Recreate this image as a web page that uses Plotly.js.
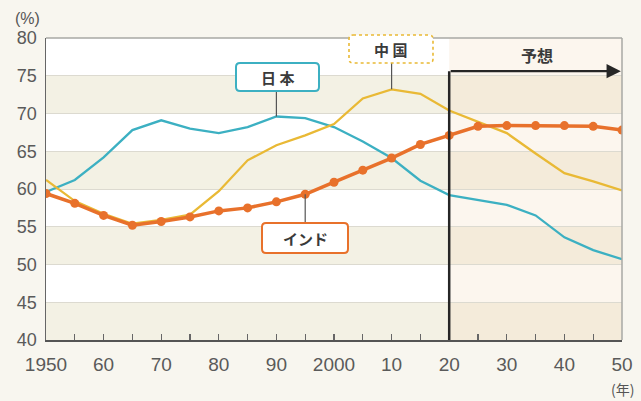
<!DOCTYPE html>
<html><head><meta charset="utf-8">
<script src="https://cdn.plot.ly/plotly-3.0.1.min.js"></script>
<style>html,body{margin:0;padding:0;background:#f8f6ef;}#chart{width:641px;height:401px;}</style>
</head><body><div id="chart"></div>
<script>
// ---- data ----
const years = [1950,1955,1960,1965,1970,1975,1980,1985,1990,1995,2000,2005,2010,2015,2020,2025,2030,2035,2040,2045,2050];
const japan = [59.6,61.2,64.2,67.8,69.1,68.0,67.4,68.2,69.6,69.4,68.2,66.3,64.1,61.1,59.2,58.5,57.9,56.5,53.6,51.9,50.7];
const china = [61.2,58.4,56.7,55.4,55.9,56.6,59.7,63.8,65.8,67.1,68.6,72.0,73.2,72.6,70.4,68.9,67.4,64.7,62.1,61.0,59.8];
const india = [59.4,58.1,56.5,55.2,55.7,56.3,57.1,57.5,58.3,59.3,60.9,62.5,64.1,65.9,67.1,68.3,68.4,68.4,68.4,68.3,67.8];
const xTickVals = [1950,1960,1970,1980,1990,2000,2010,2020,2030,2040,2050];
const xTickText = ['1950','60','70','80','90','2000','10','20','30','40','50'];
const yTickVals = [40,45,50,55,60,65,70,75,80];
const forecastStart = 2020;
const labelJapan = '日 本', labelChina = '中 国', labelIndia = 'インド', labelForecast = '予想';

// ---- styling ----
const cJapan = '#3cb0c2', cChina = '#e9b935', cIndia = '#e8712b';
const font = 'Liberation Sans, Arial, sans-serif';
const jpFont = 'Noto Sans CJK JP, sans-serif';
const xMin = 1950, xMax = 2050, yMin = 40, yMax = 80;
const arrowY = 75.6;

const shapes = [];
// bands
for (let y0 = yMin; y0 < yMax; y0 += 5) {
  const beige = ((y0 / 5) % 2 === 0);
  shapes.push({type:'rect', xref:'x', yref:'y', x0:xMin, x1:forecastStart, y0:y0, y1:y0+5,
    fillcolor: beige ? '#f3f1e4' : '#ffffff', line:{width:0}, layer:'below'});
  shapes.push({type:'rect', xref:'x', yref:'y', x0:forecastStart, x1:xMax, y0:y0, y1:y0+5,
    fillcolor: beige ? '#f4ebda' : '#fcf6ee', line:{width:0}, layer:'below'});
}
// frame top & right
shapes.push({type:'line', xref:'paper', yref:'paper', x0:0, x1:1, y0:1, y1:1, line:{color:'#a8a8a4', width:1.5}});
shapes.push({type:'line', xref:'paper', yref:'paper', x0:1, x1:1, y0:0, y1:1, line:{color:'#a8a8a4', width:1.5}});
// forecast vertical line
shapes.push({type:'line', xref:'x', yref:'y', x0:forecastStart, x1:forecastStart, y0:yMin, y1:arrowY, line:{color:'#262626', width:2.5}});

function roundRect(x0, x1, y0, y1, r) {
  const rx = r / 576, ry = r / 302;
  return `M ${x0+rx},${y1} L ${x1-rx},${y1} Q ${x1},${y1} ${x1},${y1-ry} L ${x1},${y0+ry} Q ${x1},${y0} ${x1-rx},${y0} ` +
         `L ${x0+rx},${y0} Q ${x0},${y0} ${x0},${y0+ry} L ${x0},${y1-ry} Q ${x0},${y1} ${x0+rx},${y1} Z`;
}
const px = p => (p - 46) / 576;
const py = p => (340 - p) / 302;
const paperToY = yp => yMin + yp * (yMax - yMin);

const boxes = [
  {label: labelJapan, color: cJapan, x0: px(236), x1: px(319), y0: py(91), y1: py(63), dash:'solid', w:2, year:1990, series: japan, edge:'bottom'},
  {label: labelChina, color: cChina, x0: px(349), x1: px(433), y0: py(63), y1: py(35), dash:'dot', w:1.6, year:2010, series: china, edge:'bottom'},
  {label: labelIndia, color: cIndia, x0: px(262), x1: px(348), y0: py(253), y1: py(223), dash:'solid', w:2, year:1995, series: india, edge:'top'}
];
const annotations = [];
boxes.forEach(b => {
  const v = b.series[years.indexOf(b.year)];
  const yEdge = paperToY(b.edge === 'bottom' ? b.y0 : b.y1);
  shapes.push({type:'line', xref:'x', yref:'y', x0:b.year, x1:b.year, y0:yEdge, y1:v, line:{color:'#555', width:1.2}, layer:'above'});
  shapes.push({type:'path', xref:'paper', yref:'paper', path: roundRect(b.x0, b.x1, b.y0, b.y1, 4),
    fillcolor:'#ffffff', line:{color:b.color, width:b.w, dash:b.dash}, layer:'above'});
  annotations.push({xref:'paper', yref:'paper', x:(b.x0+b.x1)/2, y:(b.y0+b.y1)/2, text:'<b>'+b.label+'</b>', showarrow:false,
    font:{family:jpFont, size:15, color:'#3a3a3a'}, xanchor:'center', yanchor:'middle'});
});
// forecast arrow
annotations.push({xref:'x', yref:'y', axref:'x', ayref:'y', x:2049.8, y:arrowY, ax:forecastStart, ay:arrowY, text:'',
  showarrow:true, arrowhead:2, arrowsize:1.3, arrowwidth:2.2, arrowcolor:'#262626'});
annotations.push({xref:'paper', yref:'paper', x:px(537), y:py(55), text:'<b>'+labelForecast+'</b>', showarrow:false,
  font:{family:jpFont, size:16, color:'#3a3a3a'}, xanchor:'center', yanchor:'middle'});
annotations.push({xref:'paper', yref:'paper', x:px(27), y:py(18), text:'(%)', showarrow:false,
  font:{family:font, size:16, color:'#555'}, xanchor:'center', yanchor:'middle'});
annotations.push({xref:'paper', yref:'paper', x:px(622), y:py(389), text:'(年)', showarrow:false,
  font:{family:jpFont, size:14, color:'#555'}, xanchor:'center', yanchor:'middle'});

const traces = [
  {x: years, y: japan, type:'scatter', mode:'lines', line:{color:cJapan, width:2.3}, hoverinfo:'skip'},
  {x: years, y: china, type:'scatter', mode:'lines', line:{color:cChina, width:2.3}, hoverinfo:'skip'},
  {x: years, y: india, type:'scatter', mode:'lines+markers', line:{color:cIndia, width:3.5}, marker:{color:cIndia, size:9}, hoverinfo:'skip'}
];

const layout = {
  width: 641, height: 401,
  margin: {l:46, r:19, t:38, b:61},
  paper_bgcolor: '#f8f6ef', plot_bgcolor: '#ffffff',
  showlegend: false,
  xaxis: {range:[xMin, xMax], tickvals:xTickVals, ticktext:xTickText, ticks:'inside', ticklen:6, tickwidth:1.2, tickcolor:'#666',
    minor:{dtick:5, tick0:1950, ticks:'inside', ticklen:6, tickwidth:1.2, tickcolor:'#666', showgrid:false},
    showline:true, linecolor:'#555', linewidth:2, showgrid:false, zeroline:false, ticklabelstandoff:6,
    tickfont:{family:font, size:19, color:'#5a5a5a'}},
  yaxis: {range:[yMin, yMax], tickvals:yTickVals, ticks:'', showline:true, linecolor:'#666', linewidth:1.5,
    showgrid:true, gridcolor:'#dcdad0', gridwidth:1, zeroline:false, ticklabelstandoff:4,
    tickfont:{family:font, size:18, color:'#5a5a5a'}},
  shapes: shapes,
  annotations: annotations
};
Plotly.newPlot('chart', traces, layout, {staticPlot:true, displayModeBar:false});
</script></body></html>
